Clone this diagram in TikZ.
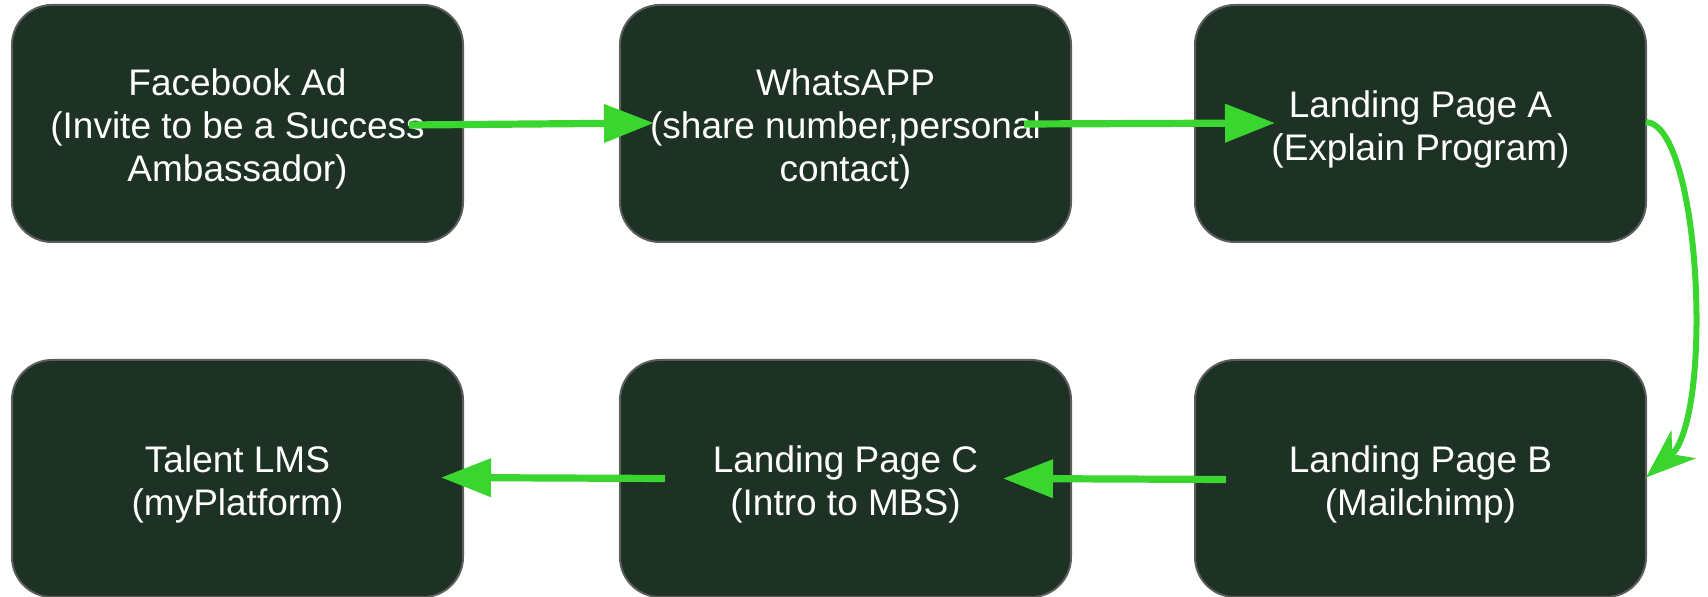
\documentclass[tikz,border=0pt]{standalone}
\usepackage{fontspec}
\setmainfont{Liberation Sans}
\usetikzlibrary{positioning}
\usetikzlibrary{arrows.meta}
\usetikzlibrary{calc}

\definecolor{boxfill}{HTML}{1D3124}
\definecolor{boxline}{HTML}{5C5C5C}
\definecolor{flowgreen}{HTML}{3AD52E}

\newcommand{\padtop}{\rule{0pt}{19pt}} % push text a little down

\begin{document}
\begin{tikzpicture}[
            x = 0.5pt, y = -0.5pt, % one unit = one pixel, y downwards
            > = {Triangle[length=25pt, width=18.5pt]}, % arrow head style
            node distance = 58pt and 77.5pt, % gaps between boxes
            semithick % line style
        ]

        \tikzstyle{stage}=[
            draw = boxline,
            line width = 1pt,
            fill = boxfill,
            text = white,
            rounded corners = 20pt,
            minimum width = 225.5pt,
            minimum height = 118.5pt,
            align = center,
            font = \fontsize{18.5}{21.5}\selectfont
        ]
        \tikzstyle{flow}=[->, draw = flowgreen, fill = flowgreen, line width = 3.6pt]

        \useasboundingbox (0,0) rectangle (1708,597);

% top row
        \node[stage] (FB) at (237.5,123.5) {\padtop Facebook Ad\\(Invite to be a Success\\Ambassador)};
           \node[stage] (WA) [right = 77.5pt of FB] {\padtop WhatsAPP\\(share number,personal\\contact)};
            \node[stage] (LPA) [right = 61pt of WA] {\padtop Landing Page A\\(Explain Program)};

% bottom row
        \node[stage] (LPB) [below = of LPA] {\padtop Landing Page B\\(Mailchimp)};
           \node[stage] (LPC) [below = of WA] {\padtop Landing Page C\\(Intro to MBS)};
            \node[stage] (LMS) [below = of FB] {\padtop Talent LMS\\(myPlatform)};

% arrow ends
        \coordinate (A1S) at ($(FB.east)+(-55,1.5)$);
        \coordinate (A1E) at ($(WA.west)+(35,-0.5)$);
        \coordinate (A2S) at ($(WA.east)+(-48,0.5)$);
        \coordinate (A2E) at ($(LPA.west)+(81,-0.5)$);
        \coordinate (A4S) at ($(LPB.west)+(32,1)$);
        \coordinate (A4E) at ($(LPC.east)+(-69,0)$);
        \coordinate (A5S) at ($(LPC.west)+(46,0)$);
        \coordinate (A5E) at ($(LMS.east)+(-23,-1)$);

        \draw[flow] (A1S) -- (A1E);
        \draw[flow] (A2S) -- (A2E);
        \draw[flow] (A4S) -- (A4E);
        \draw[flow] (A5S) -- (A5E);

        \draw[flow, fill = none, line width = 3pt,
              -{Stealth[length=25pt, width=18.5pt, inset=7.5pt, fill=flowgreen]}]
            ($(LPA.east)+(-1,-1.5)$) .. controls +(55,3) and +(68,-60) .. ($(LPB.east)+(-1,-1)$);

  \end{tikzpicture}
\end{document}
